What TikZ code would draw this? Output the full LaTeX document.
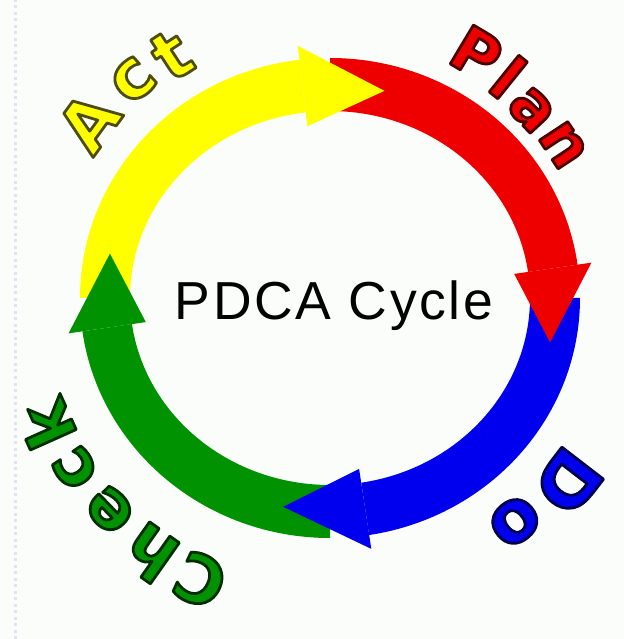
\documentclass[tikz,border=0pt]{standalone}
\usepackage{fontspec}
\setmainfont{Liberation Sans}
\newfontfamily\cyclefont[LetterSpace=5]{Liberation Sans}
\newfontfamily\lettfont{DejaVu Sans}
\definecolor{pdcared}{RGB}{238,0,0}
\definecolor{pdcayellow}{RGB}{255,255,0}
\definecolor{pdcablue}{RGB}{0,0,238}
\definecolor{pdcagreen}{RGB}{0,146,0}
\definecolor{bgc}{RGB}{251,253,251}
\definecolor{edgedots}{RGB}{226,226,244}
% outlined letter: #1 outline colour as "r g b", #2 text (fill colour from the node)
\newcommand\olet[2]{%
  \special{pdf:literal direct #1 RG 2 Tr 2.8 w 1 j}#2\special{pdf:literal direct 0 Tr}}
\newcommand\pdcabody[3]{%
  \fill[#1] (#2:250pt and 240pt)
    arc[start angle=#2,end angle=#3,x radius=250pt,y radius=240pt]
    -- (#3:200pt and 187pt)
    arc[start angle=#3,end angle=#2,x radius=200pt,y radius=187pt] -- cycle;}
\newcommand\pdcahead[3]{%
  \fill[#1] (#2:264pt and 254pt) -- (#3:225pt and 213.5pt)
    -- (#2:186pt and 173pt) -- cycle;}
\tikzset{
  lettbox/.style={inner sep=0pt, anchor=center},
  planfont/.style={font=\lettfont\bfseries\fontsize{62}{62}\selectfont, text=pdcared},
  dofont/.style={font=\lettfont\bfseries\fontsize{72}{72}\selectfont, text=pdcablue},
  checkfont/.style={font=\lettfont\bfseries\fontsize{66}{66}\selectfont, text=pdcagreen},
  actfont/.style={font=\lettfont\bfseries\fontsize{68}{68}\selectfont, text=pdcayellow},
}
\begin{document}
\begin{tikzpicture}
\fill[bgc] (-330pt,-341pt) rectangle (294pt,298pt);
\useasboundingbox (-330pt,-341pt) rectangle (294pt,298pt);
\draw[edgedots, line width=3pt, dash pattern=on 3pt off 3.5pt] (-314pt,-341pt) -- (-314pt,298pt);
% arrow bodies
\pdcabody{pdcared}{90}{8}
\pdcabody{pdcablue}{0}{-81}
\pdcabody{pdcagreen}{-90}{-172}
\pdcabody{pdcayellow}{180}{97}
% arrow heads
\pdcahead{pdcared}{8}{-12}
\pdcahead{pdcablue}{-81}{-102}
\pdcahead{pdcagreen}{-172}{-192}
\pdcahead{pdcayellow}{97}{76}
% centre title
\node[font=\cyclefont\fontsize{53.5}{60}\selectfont, anchor=base, inner sep=0pt] (title) at (4pt,-22pt) {PDCA Cycle};
% Plan
\node[lettbox, planfont, rotate=-30.9] (p1) at (59.1:285.3pt) {\olet{0.3 0 0}{P}};
\node[lettbox, planfont, rotate=-38.9] (p2) at (51.1:284pt) {\olet{0.3 0 0}{l}};
\node[lettbox, planfont, rotate=-47] (p3) at (43.0:275.7pt) {\olet{0.3 0 0}{a}};
\node[lettbox, planfont, rotate=-56.7] (p4) at (33.3:279pt) {\olet{0.3 0 0}{n}};
% Do
\node[lettbox, dofont, rotate=-127.6] (d1) at (-37.6:301pt) {\olet{0 0 0.3}{D}};
\node[lettbox, dofont, rotate=-140.4] (d2) at (-50.4:290pt) {\olet{0 0 0.3}{o}};
% Check
\node[lettbox, checkfont, rotate=155.3] (c1) at (245.3:310.5pt) {\olet{0 0.18 0}{C}};
\node[lettbox, checkfont, rotate=144.8] (c2) at (234.8:312pt) {\olet{0 0.18 0}{h}};
\node[lettbox, checkfont, rotate=133.9] (c3) at (223.9:305.5pt) {\olet{0 0.18 0}{e}};
\node[lettbox, checkfont, rotate=123.7] (c4) at (213.7:306.5pt) {\olet{0 0.18 0}{c}};
\node[lettbox, checkfont, rotate=114.1] (c5) at (204.1:310.5pt) {\olet{0 0.18 0}{k}};
% Act
\node[lettbox, actfont, rotate=53.9] (a1) at (143.9:299pt) {\olet{0.3 0.3 0.05}{A}};
\node[lettbox, actfont, rotate=42.1] (a2) at (132.1:293.6pt) {\olet{0.3 0.3 0.05}{c}};
\node[lettbox, actfont, rotate=33.1] (a3) at (123.1:290pt) {\olet{0.3 0.3 0.05}{t}};
\end{tikzpicture}
\end{document}
